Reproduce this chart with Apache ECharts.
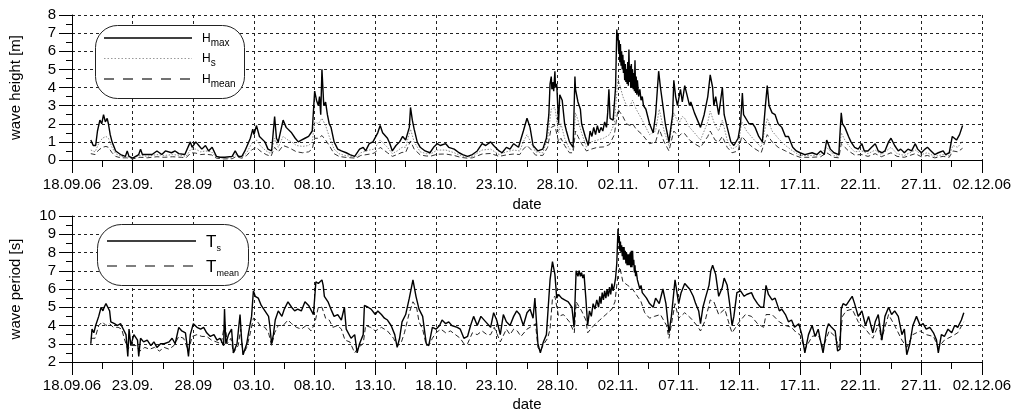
<!DOCTYPE html>
<html>
<head>
<meta charset="utf-8">
<script src="https://cdn.jsdelivr.net/npm/echarts@6/dist/echarts.min.js"></script>
<style>
  html, body { margin: 0; padding: 0; background: #fff; }
  #chart { width: 1025px; height: 415px; }
</style>
</head>
<body>
<div id="chart"></div>
<script>
// x = days since 18.09.06 00:00
var dateLabels = ['18.09.06', '23.09.', '28.09', '03.10.', '08.10.', '13.10.', '18.10.', '23.10.',
  '28.10.', '02.11.', '07.11.', '12.11.', '17.11.', '22.11.', '27.11.', '02.12.06'];

var hMax = [
  [1.55,1.1],[1.75,0.8],[1.95,0.8],[2.1,1.6],[2.3,2.2],[2.45,2.0],[2.6,2.5],[2.75,2.1],[2.9,2.3],[3.0,2.0],
  [3.15,1.4],[3.3,1.0],[3.6,0.5],[4.0,0.3],[4.4,0.2],[4.55,0.5],[4.7,0.2],[5.0,0.1],[5.5,0.3],[5.65,0.6],
  [5.8,0.3],[6.1,0.3],[6.6,0.3],[7.0,0.5],[7.4,0.3],[7.7,0.5],[8.2,0.4],[8.5,0.5],[8.8,0.35],[9.3,0.3],
  [9.75,1.0],[9.9,0.7],[10.2,1.0],[10.45,0.8],[10.7,0.6],[11.0,0.8],[11.25,0.5],[11.55,0.7],[11.9,0.2],[12.2,0.15],
  [12.6,0.15],[13.2,0.2],[13.45,0.5],[13.7,0.2],[14.0,0.2],[14.25,0.5],[14.7,1.2],[14.9,1.7],[15.0,1.4],[15.2,1.9],
  [15.45,1.3],[15.9,1.0],[16.15,0.6],[16.45,0.5],[16.7,2.4],[16.85,1.2],[17.0,1.0],[17.4,2.2],[17.65,1.8],[18.1,1.5],
  [18.4,1.2],[18.65,1.0],[18.9,1.1],[19.2,1.2],[19.5,1.3],[19.8,1.6],[20.0,3.8],[20.15,3.3],[20.3,3.0],[20.4,3.5],
  [20.5,2.5],[20.6,5.0],[20.75,3.0],[20.9,3.2],[21.05,2.5],[21.2,2.0],[21.35,1.8],[21.6,1.0],[21.9,0.6],[22.2,0.5],
  [22.6,0.4],[22.9,0.3],[23.3,0.2],[23.7,0.6],[24.0,0.7],[24.2,0.5],[24.5,0.9],[24.8,1.0],[24.9,0.9],[25.2,1.5],
  [25.4,1.9],[25.6,1.5],[26.0,1.2],[26.2,0.9],[26.4,0.5],[26.7,0.8],[27.0,1.0],[27.25,1.3],[27.5,1.1],[27.8,1.8],
  [27.9,2.9],[28.05,2.2],[28.2,1.7],[28.45,1.0],[28.7,0.7],[29.1,0.5],[29.5,0.4],[29.8,0.7],[30.1,0.9],[30.35,0.8],
  [30.8,0.9],[31.05,0.7],[31.5,0.6],[31.9,0.4],[32.2,0.3],[32.6,0.2],[33.0,0.3],[33.4,0.5],[33.8,0.9],[34.1,0.8],
  [34.5,1.0],[34.75,0.8],[35.2,0.5],[35.45,0.4],[35.8,0.7],[36.1,0.6],[36.4,0.9],[36.8,0.7],[37.2,1.6],[37.5,2.3],
  [37.75,1.8],[38.0,0.8],[38.4,0.5],[38.8,0.6],[39.1,1.2],[39.3,2.5],[39.4,4.2],[39.5,4.6],[39.55,3.9],[39.65,4.3],
  [39.7,3.8],[39.8,4.9],[39.85,4.0],[39.95,4.2],[40.1,2.0],[40.2,3.6],[40.4,3.3],[40.6,2.0],[40.75,1.6],[41.0,1.0],
  [41.3,0.7],[41.45,4.6],[41.5,3.9],[41.6,4.0],[41.7,3.2],[41.9,2.8],[42.0,2.0],[42.3,1.3],[42.55,0.8],[42.7,1.6],
  [42.85,1.3],[43.0,1.8],[43.15,1.4],[43.3,1.9],[43.45,1.5],[43.6,1.8],[43.75,1.6],[43.9,2.1],[44.05,1.8],[44.15,2.6],
  [44.25,3.9],[44.35,2.3],[44.6,2.2],[44.8,4.0],[44.9,7.2],[44.95,6.6],[45.0,7.0],[45.05,6.0],[45.1,6.6],[45.15,5.4],
  [45.2,6.4],[45.25,5.2],[45.3,6.0],[45.35,5.0],[45.4,5.8],[45.45,4.8],[45.5,5.5],[45.55,4.4],[45.6,5.3],[45.65,4.3],
  [45.7,5.0],[45.75,4.2],[45.8,5.4],[45.85,4.1],[45.9,6.1],[45.95,4.3],[46.0,5.2],[46.05,4.0],[46.1,5.3],[46.15,4.0],
  [46.2,5.0],[46.25,3.9],[46.3,4.8],[46.35,3.8],[46.4,5.5],[46.45,3.7],[46.5,4.6],[46.55,3.6],[46.6,4.4],[46.7,3.5],
  [46.8,3.9],[46.9,3.3],[47.0,3.5],[47.1,3.0],[47.3,2.8],[47.6,2.0],[47.9,1.5],[48.1,2.5],[48.35,4.9],[48.5,4.0],
  [48.7,3.0],[48.9,2.0],[49.2,1.0],[49.5,2.5],[49.6,4.4],[49.75,3.5],[49.9,3.0],[50.15,3.9],[50.3,3.2],[50.5,4.1],
  [50.9,3.0],[51.0,3.2],[51.3,2.6],[51.55,2.2],[51.8,1.8],[52.1,2.5],[52.4,3.5],[52.6,4.7],[52.8,4.0],[52.9,3.0],
  [53.05,3.5],[53.3,2.5],[53.6,4.0],[53.75,2.5],[54.0,1.8],[54.3,1.0],[54.55,0.8],[54.9,1.2],[55.1,2.0],[55.25,3.7],
  [55.35,2.5],[55.5,2.6],[55.8,2.0],[56.1,2.0],[56.3,1.8],[56.6,1.3],[56.9,1.0],[57.15,3.0],[57.3,4.1],[57.45,3.0],
  [57.7,2.6],[57.95,2.5],[58.2,2.0],[58.5,1.8],[58.8,1.3],[59.05,1.3],[59.4,0.7],[59.7,0.5],[60.0,0.4],[60.4,0.3],
  [61.0,0.4],[61.4,0.3],[61.7,0.5],[62.0,0.3],[62.2,1.1],[62.5,0.6],[62.8,0.4],[63.2,0.3],[63.3,1.5],[63.4,2.6],
  [63.5,2.0],[63.7,1.8],[64.0,1.3],[64.2,1.0],[64.5,0.7],[64.8,0.6],[65.1,0.9],[65.3,0.5],[65.6,0.5],[65.9,0.7],
  [66.2,0.9],[66.45,0.5],[66.75,0.4],[67.0,0.5],[67.3,1.0],[67.5,1.2],[67.8,0.8],[68.1,0.5],[68.3,0.6],[68.6,0.4],
  [68.9,0.6],[69.2,0.5],[69.5,0.9],[69.7,0.6],[70.0,0.4],[70.3,0.6],[70.5,0.7],[70.8,0.5],[71.1,0.3],[71.4,0.4],
  [71.8,0.5],[72.0,0.3],[72.3,0.4],[72.55,1.3],[72.9,1.1],[73.15,1.4],[73.4,1.9]
];

var hS = [
  [1.55,0.55],[1.9,0.45],[2.2,0.9],[2.5,1.2],[2.8,1.3],[3.0,1.2],[3.3,0.7],[3.6,0.35],[4.0,0.2],[4.5,0.2],
  [5.0,0.1],[5.6,0.25],[6.2,0.2],[7.0,0.3],[7.6,0.25],[8.3,0.3],[9.0,0.25],[9.4,0.2],[9.8,0.6],[10.2,0.6],
  [10.6,0.45],[11.0,0.5],[11.5,0.45],[11.9,0.15],[12.5,0.1],[13.2,0.12],[13.5,0.3],[14.0,0.15],[14.4,0.4],[14.8,0.9],
  [15.2,1.1],[15.5,0.8],[16.0,0.5],[16.4,0.35],[16.7,1.2],[17.0,0.7],[17.4,1.3],[17.8,1.1],[18.1,1.0],[18.5,0.8],
  [19.0,0.75],[19.5,0.8],[19.8,1.0],[20.0,2.1],[20.3,2.0],[20.6,2.3],[20.9,1.9],[21.2,1.3],[21.6,0.6],[22.0,0.35],
  [22.5,0.25],[23.0,0.2],[23.4,0.15],[23.8,0.4],[24.5,0.55],[24.9,0.6],[25.2,0.9],[25.4,1.1],[25.7,0.9],[26.0,0.7],
  [26.4,0.35],[26.8,0.5],[27.2,0.7],[27.5,0.7],[27.9,1.7],[28.2,1.0],[28.7,0.45],[29.2,0.35],[29.6,0.35],[30.1,0.55],
  [30.8,0.55],[31.5,0.4],[32.0,0.25],[32.6,0.15],[33.0,0.2],[33.8,0.55],[34.5,0.6],[35.2,0.3],[35.8,0.45],[36.4,0.55],
  [36.9,0.5],[37.2,1.0],[37.5,1.4],[37.8,1.0],[38.2,0.45],[38.8,0.4],[39.2,1.2],[39.5,2.8],[39.8,2.9],[40.1,1.5],
  [40.3,2.0],[40.6,1.2],[41.0,0.6],[41.3,0.6],[41.5,2.6],[41.7,2.2],[42.0,1.5],[42.4,0.7],[42.8,1.0],[43.3,1.1],
  [43.8,1.2],[44.3,1.4],[44.7,2.0],[45.0,4.5],[45.2,4.0],[45.4,3.5],[45.7,3.0],[46.0,3.0],[46.2,3.3],[46.5,2.8],
  [47.0,2.2],[47.6,1.4],[48.1,1.6],[48.4,2.8],[48.8,1.6],[49.2,0.8],[49.6,2.6],[50.0,2.0],[50.3,2.4],[50.5,2.3],
  [50.9,1.8],[51.3,1.5],[51.8,1.1],[52.4,2.1],[52.6,2.7],[53.0,1.9],[53.3,1.6],[53.6,2.2],[54.0,1.1],[54.4,0.6],
  [54.9,0.8],[55.2,2.1],[55.6,1.6],[56.1,1.2],[56.8,0.7],[57.3,2.3],[57.7,1.6],[58.2,1.2],[58.8,0.8],[59.4,0.5],
  [60.0,0.25],[61.0,0.25],[61.7,0.3],[62.2,0.7],[62.8,0.25],[63.2,0.2],[63.4,1.5],[63.7,1.1],[64.0,0.8],[64.5,0.45],
  [65.1,0.5],[65.6,0.35],[66.2,0.55],[66.7,0.3],[67.5,0.7],[68.0,0.35],[68.6,0.25],[69.5,0.55],[70.0,0.3],[70.5,0.4],
  [71.1,0.2],[71.8,0.3],[72.3,0.25],[72.6,0.8],[73.0,0.7],[73.4,1.05]
];

var hMean = [
  [1.55,0.35],[1.9,0.3],[2.2,0.55],[2.5,0.7],[2.8,0.75],[3.0,0.7],[3.3,0.4],[3.6,0.2],[4.0,0.12],[4.5,0.12],
  [5.0,0.06],[5.6,0.15],[6.2,0.12],[7.0,0.18],[7.6,0.15],[8.3,0.18],[9.0,0.15],[9.4,0.12],[9.8,0.4],[10.2,0.38],
  [10.6,0.3],[11.0,0.32],[11.5,0.28],[11.9,0.1],[12.5,0.06],[13.2,0.07],[13.5,0.18],[14.0,0.1],[14.4,0.25],[14.8,0.55],
  [15.2,0.7],[15.5,0.5],[16.0,0.3],[16.4,0.2],[16.7,0.7],[17.0,0.45],[17.4,0.8],[17.8,0.7],[18.1,0.6],[18.5,0.45],
  [19.0,0.4],[19.5,0.45],[19.8,0.6],[20.0,1.2],[20.3,1.2],[20.6,1.35],[20.9,1.1],[21.2,0.8],[21.6,0.35],[22.0,0.2],
  [22.5,0.15],[23.0,0.12],[23.4,0.1],[23.8,0.25],[24.5,0.32],[24.9,0.38],[25.2,0.55],[25.4,0.7],[25.7,0.55],[26.0,0.4],
  [26.4,0.2],[26.8,0.3],[27.2,0.42],[27.5,0.42],[27.9,1.05],[28.2,0.6],[28.7,0.28],[29.2,0.22],[29.6,0.22],[30.1,0.32],
  [30.8,0.33],[31.5,0.25],[32.0,0.15],[32.6,0.1],[33.0,0.12],[33.8,0.33],[34.5,0.36],[35.2,0.2],[35.8,0.28],[36.4,0.33],
  [36.9,0.3],[37.2,0.6],[37.5,0.8],[37.8,0.6],[38.2,0.27],[38.8,0.25],[39.2,0.7],[39.5,1.8],[39.8,1.9],[40.1,1.0],
  [40.3,1.2],[40.6,0.8],[41.0,0.4],[41.3,0.4],[41.5,1.6],[41.7,1.3],[42.0,0.9],[42.4,0.5],[42.8,0.6],[43.3,0.7],
  [43.8,0.72],[44.3,0.85],[44.7,1.4],[45.0,2.8],[45.2,2.6],[45.4,2.4],[45.7,2.0],[46.0,1.9],[46.2,2.0],[46.5,1.7],
  [47.0,1.4],[47.6,0.9],[48.1,1.0],[48.4,1.7],[48.8,1.0],[49.2,0.5],[49.6,1.6],[50.0,1.3],[50.3,1.5],[50.5,1.45],
  [50.9,1.1],[51.3,0.9],[51.8,0.7],[52.4,1.3],[52.6,1.6],[53.0,1.1],[53.3,1.0],[53.6,1.3],[54.0,0.7],[54.4,0.4],
  [54.9,0.5],[55.2,1.3],[55.6,1.0],[56.1,0.7],[56.8,0.4],[57.3,1.4],[57.7,1.0],[58.2,0.7],[58.8,0.5],[59.4,0.3],
  [60.0,0.15],[61.0,0.15],[61.7,0.18],[62.2,0.4],[62.8,0.15],[63.2,0.12],[63.4,0.9],[63.7,0.7],[64.0,0.5],[64.5,0.28],
  [65.1,0.3],[65.6,0.2],[66.2,0.35],[66.7,0.18],[67.5,0.4],[68.0,0.2],[68.6,0.15],[69.5,0.35],[70.0,0.18],[70.5,0.25],
  [71.1,0.12],[71.8,0.2],[72.3,0.15],[72.6,0.5],[73.0,0.45],[73.4,0.65]
];

var tS = [
  [1.55,3.0],[1.65,3.8],[1.8,3.6],[1.95,4.0],[2.2,4.5],[2.4,5.0],[2.55,4.8],[2.65,5.0],[2.8,5.2],[2.95,5.0],
  [3.1,4.8],[3.2,4.2],[3.5,4.1],[3.75,4.0],[4.0,4.1],[4.3,3.7],[4.45,3.5],[4.6,2.3],[4.7,3.8],[4.85,2.9],
  [5.1,3.5],[5.4,3.2],[5.5,2.3],[5.65,3.3],[5.9,3.1],[6.2,3.2],[6.5,2.9],[6.75,3.1],[7.0,2.8],[7.3,3.0],
  [7.6,3.0],[8.0,3.1],[8.25,3.3],[8.5,3.0],[8.8,3.9],[9.05,3.7],[9.35,3.6],[9.6,2.3],[9.75,3.5],[10.0,4.1],
  [10.3,3.9],[10.6,3.8],[10.85,3.9],[11.1,3.6],[11.4,3.4],[11.7,3.5],[11.95,3.2],[12.2,3.3],[12.5,2.9],[12.57,4.9],
  [12.68,3.0],[12.9,3.5],[13.15,3.8],[13.3,2.5],[13.6,3.0],[13.85,4.6],[13.98,3.2],[14.1,2.4],[14.25,2.5],[14.4,3.0],
  [14.55,3.6],[14.8,4.5],[14.95,5.9],[15.1,5.6],[15.35,5.5],[15.6,5.1],[15.9,4.8],[16.2,4.5],[16.3,4.0],[16.45,3.0],
  [16.6,3.5],[16.75,4.3],[17.0,4.8],[17.3,4.5],[17.5,4.9],[17.8,5.3],[18.1,5.0],[18.35,4.8],[18.6,4.9],[18.9,4.8],
  [19.2,5.3],[19.5,5.1],[19.9,4.6],[20.1,6.4],[20.3,6.3],[20.6,6.5],[20.7,6.2],[20.8,5.6],[21.1,5.3],[21.4,4.8],
  [21.6,4.5],[21.9,4.6],[22.2,4.3],[22.45,5.0],[22.6,3.8],[22.75,3.7],[23.0,3.3],[23.3,3.5],[23.5,2.5],[23.7,3.0],
  [24.0,3.5],[24.1,5.1],[24.4,5.0],[24.65,4.9],[25.0,4.6],[25.2,4.8],[25.5,4.6],[25.75,4.4],[26.0,4.3],[26.3,4.0],
  [26.6,3.5],[26.8,2.8],[27.0,3.3],[27.2,4.2],[27.5,4.6],[27.8,5.5],[28.1,6.5],[28.35,5.6],[28.6,4.9],[28.9,4.5],
  [29.2,3.0],[29.4,2.9],[29.7,3.9],[30.0,3.8],[30.3,4.0],[30.5,4.3],[30.8,4.1],[31.05,4.2],[31.3,4.0],[31.75,3.9],
  [32.0,3.8],[32.3,3.3],[32.6,3.4],[32.85,4.0],[33.1,4.5],[33.4,4.0],[33.7,4.5],[34.1,4.2],[34.5,3.9],[34.75,4.7],
  [35.0,4.3],[35.3,3.5],[35.55,4.6],[35.8,4.2],[36.1,4.0],[36.4,4.5],[36.65,4.8],[36.9,4.6],[37.2,4.0],[37.5,4.7],
  [37.75,4.9],[38.0,4.4],[38.15,5.5],[38.4,3.0],[38.6,2.5],[38.85,3.1],[39.1,3.5],[39.25,5.0],[39.4,6.5],[39.6,7.5],
  [39.8,6.8],[39.95,5.5],[40.1,5.7],[40.35,5.5],[40.6,5.4],[40.9,5.3],[41.2,5.0],[41.38,3.9],[41.55,7.0],[41.7,6.7],
  [41.8,7.0],[41.9,6.7],[42.0,6.9],[42.1,6.6],[42.2,6.8],[42.35,5.5],[42.5,4.0],[42.65,4.8],[42.8,4.5],[42.95,5.2],
  [43.1,4.9],[43.25,5.4],[43.4,5.0],[43.5,5.6],[43.6,5.2],[43.7,5.8],[43.8,5.4],[43.9,5.9],[44.0,5.5],[44.1,6.0],
  [44.2,5.6],[44.3,6.1],[44.4,5.7],[44.5,6.3],[44.6,5.9],[44.7,6.2],[44.8,6.6],[44.9,7.4],[45.0,9.3],[45.05,8.6],
  [45.1,8.9],[45.15,8.1],[45.2,8.6],[45.25,8.0],[45.3,8.4],[45.35,7.8],[45.4,8.3],[45.45,7.6],[45.5,8.3],[45.55,7.6],
  [45.6,8.1],[45.65,7.4],[45.7,8.0],[45.75,7.3],[45.8,7.9],[45.85,7.3],[45.9,7.9],[45.95,7.3],[46.0,8.0],[46.05,7.2],
  [46.1,8.1],[46.15,7.2],[46.2,8.1],[46.25,7.3],[46.3,7.6],[46.35,6.9],[46.4,7.3],[46.45,6.7],[46.5,7.0],[46.6,6.5],
  [46.7,6.4],[46.8,6.0],[46.9,6.2],[47.0,5.8],[47.1,5.7],[47.35,5.5],[47.6,5.2],[47.9,5.0],[48.1,5.5],[48.4,5.2],
  [48.7,6.0],[48.95,5.2],[49.2,3.6],[49.4,4.5],[49.7,6.5],[50.0,5.2],[50.2,5.8],[50.5,6.3],[50.65,6.4],[50.9,6.0],
  [51.2,5.6],[51.4,5.2],[51.65,4.8],[51.8,4.1],[52.0,5.0],[52.2,5.5],[52.5,6.2],[52.65,7.0],[52.8,7.3],[53.05,6.8],
  [53.3,5.6],[53.6,6.1],[53.75,6.6],[54.0,6.2],[54.2,5.2],[54.4,4.0],[54.55,4.5],[54.8,5.8],[55.1,5.9],[55.4,5.6],
  [55.6,5.7],[56.0,5.8],[56.2,5.5],[56.5,5.2],[56.75,5.0],[57.0,5.0],[57.2,6.2],[57.4,5.7],[57.7,5.4],[57.95,5.5],
  [58.3,4.8],[58.5,4.9],[58.8,4.6],[59.05,4.2],[59.3,4.3],[59.55,3.9],[59.9,4.1],[60.15,3.5],[60.4,2.5],[60.7,3.5],
  [61.0,4.0],[61.25,3.4],[61.5,3.8],[61.65,3.3],[61.9,2.5],[62.2,3.8],[62.35,4.1],[62.6,3.9],[62.9,3.7],[63.1,2.6],
  [63.3,2.7],[63.4,4.9],[63.55,5.2],[63.8,5.1],[64.1,5.4],[64.3,5.6],[64.5,5.2],[64.8,4.5],[65.1,4.8],[65.4,4.0],
  [65.65,4.5],[66.0,3.6],[66.2,4.2],[66.45,4.6],[66.75,3.2],[67.0,4.5],[67.3,5.0],[67.55,4.6],[67.8,4.8],[68.1,4.5],
  [68.4,3.5],[68.6,3.8],[68.8,2.4],[69.05,3.0],[69.3,4.0],[69.6,4.5],[69.9,4.0],[70.15,4.1],[70.4,3.8],[70.7,3.9],
  [71.0,3.6],[71.25,3.2],[71.4,2.5],[71.65,3.5],[71.9,3.4],[72.2,3.8],[72.5,3.6],[72.75,4.0],[73.0,3.9],[73.3,4.3],
  [73.5,4.7]
];

var tMean = [
  [1.55,3.3],[1.9,3.3],[2.2,4.0],[2.5,4.2],[2.8,4.0],[3.1,4.1],[3.4,3.9],[3.8,3.9],[4.1,3.8],[4.3,3.3],
  [4.6,2.7],[4.9,2.9],[5.3,2.9],[5.6,2.6],[6.0,2.8],[6.4,2.7],[6.8,2.8],[7.2,2.6],[7.6,2.8],[8.0,2.7],
  [8.4,2.9],[8.8,3.4],[9.2,3.3],[9.6,2.6],[9.9,3.4],[10.3,3.5],[10.7,3.4],[11.1,3.4],[11.5,3.2],[11.9,3.1],
  [12.3,3.0],[12.6,4.2],[12.8,3.0],[13.1,3.3],[13.3,2.5],[13.7,2.9],[13.9,3.8],[14.1,2.4],[14.4,2.8],[14.7,3.6],
  [14.95,4.4],[15.2,4.3],[15.5,4.0],[15.9,3.9],[16.2,3.6],[16.45,2.9],[16.7,3.6],[17.0,4.0],[17.4,4.0],[17.8,4.3],
  [18.1,4.1],[18.5,3.9],[18.9,3.8],[19.3,4.0],[19.7,3.7],[20.0,4.1],[20.3,5.0],[20.6,5.0],[20.9,4.4],[21.2,4.3],
  [21.5,3.9],[21.9,4.0],[22.2,3.8],[22.5,3.2],[22.9,3.1],[23.3,2.5],[23.6,2.8],[24.0,3.0],[24.2,4.0],[24.6,3.9],
  [25.0,3.7],[25.5,3.9],[26.0,3.7],[26.5,3.3],[26.8,2.9],[27.1,3.0],[27.4,3.6],[27.8,4.7],[28.1,5.3],[28.4,5.0],
  [28.6,4.2],[28.9,3.8],[29.2,2.9],[29.5,3.0],[29.7,3.3],[30.0,3.6],[30.4,3.8],[30.8,3.6],[31.2,3.7],[31.6,3.5],
  [32.0,3.3],[32.3,3.0],[32.6,3.0],[33.0,3.6],[33.4,3.5],[33.8,3.7],[34.2,3.5],[34.5,3.5],[34.8,3.9],[35.3,3.1],
  [35.8,3.8],[36.1,3.5],[36.4,3.8],[36.7,3.7],[37.0,3.4],[37.5,3.8],[38.0,4.0],[38.2,4.1],[38.4,2.8],[38.6,2.6],
  [38.9,3.0],[39.2,3.3],[39.4,3.8],[39.6,5.5],[39.8,5.6],[40.1,4.5],[40.5,4.6],[41.0,4.2],[41.4,3.6],[41.55,5.3],
  [42.0,4.8],[42.35,4.3],[42.5,3.6],[43.0,4.0],[43.5,4.3],[44.0,4.6],[44.5,4.9],[44.75,5.3],[45.0,6.8],[45.15,7.2],
  [45.4,6.4],[45.8,6.2],[46.2,6.0],[46.5,5.7],[46.9,5.3],[47.2,4.7],[47.6,4.4],[48.0,4.5],[48.5,4.6],[49.0,4.0],
  [49.2,3.3],[49.7,5.2],[50.0,4.4],[50.5,4.7],[51.0,4.4],[51.5,4.0],[51.8,3.7],[52.2,4.3],[52.6,5.4],[52.9,5.3],
  [53.3,4.6],[53.8,4.9],[54.2,4.0],[54.4,3.6],[55.0,4.2],[55.5,4.6],[56.0,4.5],[56.5,4.1],[57.0,3.9],[57.2,4.6],
  [57.7,4.6],[58.3,4.2],[58.8,4.0],[59.3,3.9],[59.7,3.6],[60.0,3.5],[60.4,2.7],[61.0,3.4],[61.5,3.5],[61.9,2.8],
  [62.4,3.7],[62.9,3.4],[63.2,2.8],[63.5,4.5],[63.8,4.8],[64.3,4.9],[64.8,4.2],[65.4,3.8],[66.0,3.3],[66.5,4.1],
  [66.7,3.2],[67.3,4.6],[67.8,4.0],[68.4,3.2],[68.8,2.8],[69.3,3.5],[69.9,3.7],[70.4,3.5],[71.0,3.4],[71.4,2.8],
  [71.9,3.2],[72.5,3.4],[73.0,3.6],[73.5,4.2]
];

var FONT = 'Liberation Sans, Arial, sans-serif';
var chart = echarts.init(document.getElementById('chart'), null, { renderer: 'canvas' });

var gridLine = { show: true, lineStyle: { color: '#222', width: 1, type: [3, 3] } };

function makeX(idx, margin, nameGap) {
  return {
    type: 'value', gridIndex: idx, min: 0, max: 75, interval: 5,
    name: 'date', nameLocation: 'middle', nameGap: nameGap,
    nameTextStyle: { color: '#000', fontSize: 15, fontFamily: FONT },
    axisLine: { show: true, lineStyle: { color: '#000', width: 1 } },
    axisTick: { show: true, length: 13, lineStyle: { color: '#000' } },
    minorTick: { show: true, splitNumber: 2, length: 7, lineStyle: { color: '#000' } },
    axisLabel: {
      color: '#000', fontSize: 15, fontFamily: FONT, margin: margin,
      formatter: function (v) { return dateLabels[Math.round(v / 5)]; }
    },
    splitLine: gridLine
  };
}

function makeY(idx, min, max, name) {
  return {
    type: 'value', gridIndex: idx, min: min, max: max, interval: 1,
    name: name, nameLocation: 'middle', nameGap: 49,
    nameTextStyle: { color: '#000', fontSize: 15, fontFamily: FONT },
    axisLine: { show: true, lineStyle: { color: '#000', width: 1 } },
    axisTick: { show: true, length: 13, lineStyle: { color: '#000' } },
    minorTick: { show: true, splitNumber: 2, length: 6, lineStyle: { color: '#000' } },
    axisLabel: { color: '#000', fontSize: 15, fontFamily: FONT, margin: 16 },
    splitLine: gridLine
  };
}

function line(name, data, xi, color, width, type) {
  return {
    name: name, type: 'line', xAxisIndex: xi, yAxisIndex: xi, data: data,
    symbol: 'none', showSymbol: false, animation: false,
    lineStyle: { color: color, width: width, type: type }
  };
}

var richTop = {
  b: { fontSize: 12, fontFamily: FONT, color: '#000', lineHeight: 18 },
  s: { fontSize: 10, fontFamily: FONT, color: '#000', lineHeight: 10, verticalAlign: 'bottom' }
};
var richBot = {
  b: { fontSize: 17, fontFamily: FONT, color: '#000', lineHeight: 22 },
  s: { fontSize: 9, fontFamily: FONT, color: '#000', lineHeight: 9, verticalAlign: 'bottom' }
};

var option = {
  backgroundColor: '#fff',
  animation: false,
  grid: [
    { left: 66, right: 43, top: 15, height: 145 },
    { left: 66, right: 43, top: 216, height: 146 }
  ],
  xAxis: [makeX(0, 17, 37), makeX(1, 16, 35)],
  yAxis: [makeY(0, 0, 8, 'wave height [m]'), makeY(1, 2, 10, 'wave period [s]')],
  series: [
    line('Hmean', hMean, 0, '#333', 1, [5, 3]),
    line('Hs', hS, 0, '#8a8a8a', 1, [1.5, 1.5]),
    line('Hmax', hMax, 0, '#000', 1.4, 'solid'),
    line('Tmean', tMean, 1, '#222', 1, [5, 3]),
    line('Ts', tS, 1, '#000', 1.4, 'solid')
  ],
  graphic: [
    // legend, top panel
    { type: 'rect', z: 100, shape: { x: 95.5, y: 25.5, width: 149, height: 73, r: 22 },
      style: { fill: '#fff', stroke: '#222', lineWidth: 1 } },
    { type: 'line', z: 101, shape: { x1: 104, y1: 38, x2: 192, y2: 38 }, style: { stroke: '#000', lineWidth: 1.3 } },
    { type: 'line', z: 101, shape: { x1: 104, y1: 58.5, x2: 192, y2: 58.5 }, style: { stroke: '#999', lineWidth: 1, lineDash: [1.5, 2] } },
    { type: 'line', z: 101, shape: { x1: 104, y1: 79, x2: 192, y2: 79 }, style: { stroke: '#444', lineWidth: 1.5, lineDash: [10, 9] } },
    { type: 'text', z: 101, x: 202, y: 39, style: { text: '{b|H}{s|max}', rich: richTop, verticalAlign: 'middle' } },
    { type: 'text', z: 101, x: 202, y: 59, style: { text: '{b|H}{s|s}', rich: richTop, verticalAlign: 'middle' } },
    { type: 'text', z: 101, x: 202, y: 80, style: { text: '{b|H}{s|mean}', rich: richTop, verticalAlign: 'middle' } },
    // legend, bottom panel
    { type: 'rect', z: 100, shape: { x: 97.5, y: 224.5, width: 151, height: 61, r: 24 },
      style: { fill: '#fff', stroke: '#222', lineWidth: 1 } },
    { type: 'line', z: 101, shape: { x1: 107, y1: 241, x2: 196, y2: 241 }, style: { stroke: '#000', lineWidth: 1.3 } },
    { type: 'line', z: 101, shape: { x1: 107, y1: 266, x2: 196, y2: 266 }, style: { stroke: '#555', lineWidth: 1.5, lineDash: [10, 9] } },
    { type: 'text', z: 101, x: 206, y: 242, style: { text: '{b|T}{s|s}', rich: richBot, verticalAlign: 'middle' } },
    { type: 'text', z: 101, x: 206, y: 267, style: { text: '{b|T}{s|mean}', rich: richBot, verticalAlign: 'middle' } }
  ]
};

chart.setOption(option);
</script>
</body>
</html>
